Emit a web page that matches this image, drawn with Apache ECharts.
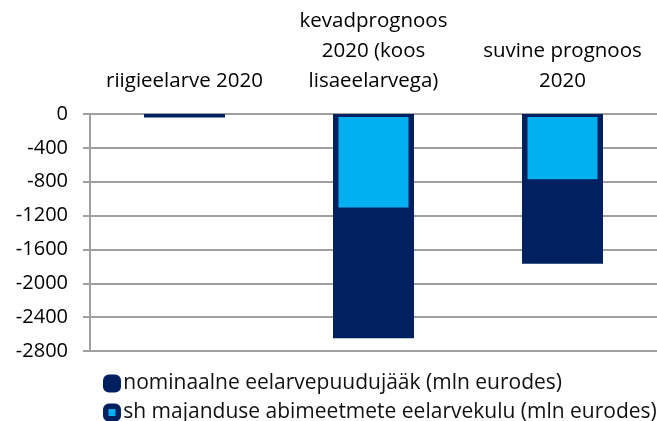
<!DOCTYPE html>
<html>
<head>
<meta charset="utf-8">
<script src="https://cdn.jsdelivr.net/npm/echarts@6/dist/echarts.min.js"></script>
<style>
  html, body { margin: 0; padding: 0; background: #fff; }
  #chart { width: 657px; height: 421px; }
</style>
</head>
<body>
<div id="chart"></div>
<script>
// kategooriad (ülemine telg)
var categories = ['riigieelarve 2020', 'kevadprognoos\n2020 (koos\nlisaeelarvega)', 'suvine prognoos\n2020'];
// nominaalne eelarvepuudujääk
var deficit = [-40, -2650, -1770];
// sh majanduse abimeetmete eelarvekulu
var support = [null, -1140, -805];
var yTicks = { min: -2800, max: 0, interval: 400 };

var seriesNames = ['nominaalne eelarvepuudujääk (mln eurodes)', 'sh majanduse abimeetmete eelarvekulu (mln eurodes)'];

var navy = '#002060';
var cyan = '#00B0F0';
var font = '"Open Sans", sans-serif';

var chart = echarts.init(document.getElementById('chart'));

chart.setOption({
  animation: false,
  textStyle: { fontFamily: font },
  grid: {
    left: 90,
    right: 0,
    top: 114,
    bottom: 70
  },
  legend: {
    orient: 'vertical',
    left: 103,
    top: 373,
    height: 60,
    padding: 0,
    itemGap: 8,
    itemWidth: 12.5,
    itemHeight: 12.5,
    icon: 'roundRect',
    textStyle: { fontSize: 21, color: '#111', fontFamily: font },
    data: [
      { name: seriesNames[0], itemStyle: { color: navy, borderColor: navy, borderWidth: 5.5 } },
      { name: seriesNames[1], itemStyle: { color: cyan, borderColor: navy, borderWidth: 5.5 } }
    ]
  },
  xAxis: [
    {
      type: 'category',
      position: 'top',
      data: categories,
      axisLine: { show: false },
      axisTick: { show: false },
      axisLabel: {
        interval: 0,
        margin: 18,
        fontSize: 20.5,
        lineHeight: 30,
        color: '#000',
        fontFamily: font
      }
    },
    {
      type: 'category',
      position: 'top',
      data: categories,
      show: false
    }
  ],
  yAxis: {
    type: 'value',
    min: yTicks.min,
    max: yTicks.max,
    interval: yTicks.interval,
    axisLine: { show: true, lineStyle: { color: '#a0a0a0', width: 2 } },
    axisTick: { show: true, length: 7, lineStyle: { color: '#a0a0a0', width: 2 } },
    axisLabel: {
      margin: 22,
      fontSize: 20,
      color: '#000',
      fontFamily: font,
      formatter: function (v) { return String(v); }
    },
    splitLine: { show: true, lineStyle: { color: '#a0a0a0', width: 2 } }
  },
  series: [
    {
      name: seriesNames[0],
      type: 'bar',
      xAxisIndex: 0,
      barWidth: 81,
      data: deficit,
      itemStyle: { color: navy }
    },
    {
      name: seriesNames[1],
      type: 'bar',
      xAxisIndex: 1,
      barWidth: 76,
      data: support,
      itemStyle: { color: cyan, borderColor: navy, borderWidth: 3 }
    }
  ]
});
</script>
</body>
</html>
